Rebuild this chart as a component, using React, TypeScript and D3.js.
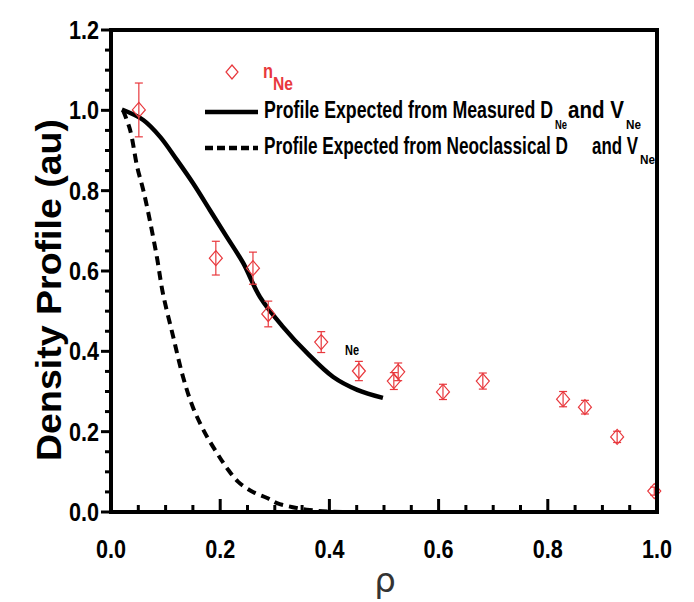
import React from 'react';
import * as d3 from 'd3';

// measured n_Ne points: rho, value, error
const rhoPts = [0.051, 0.192, 0.26, 0.288, 0.385, 0.454, 0.518, 0.526, 0.608, 0.681, 0.828, 0.868, 0.927, 0.995];
const nePts = [1.001, 0.632, 0.607, 0.493, 0.423, 0.351, 0.326, 0.349, 0.299, 0.326, 0.281, 0.261, 0.187, 0.052];
const neErr = [0.067, 0.042, 0.04, 0.032, 0.026, 0.024, 0.021, 0.022, 0.019, 0.02, 0.019, 0.017, 0.014, 0.01];

// profile from measured D and V
const measRho = [0.02, 0.059, 0.09, 0.121, 0.15, 0.181, 0.212, 0.242, 0.273, 0.315, 0.359, 0.407, 0.451, 0.498];
const measVal = [1.002, 0.976, 0.934, 0.876, 0.819, 0.752, 0.685, 0.62, 0.535, 0.461, 0.396, 0.336, 0.304, 0.284];

// profile from neoclassical D and V
const neoRho = [0.022, 0.035, 0.048, 0.059, 0.071, 0.084, 0.095, 0.114, 0.132, 0.15, 0.172, 0.194, 0.212, 0.233, 0.26, 0.286, 0.304, 0.333, 0.364, 0.401, 0.498];
const neoVal = [1.0, 0.951, 0.859, 0.802, 0.727, 0.635, 0.545, 0.436, 0.336, 0.261, 0.197, 0.147, 0.11, 0.075, 0.05, 0.035, 0.022, 0.012, 0.005, 0.001, 0.0];

const xTicks = [0, 0.2, 0.4, 0.6, 0.8, 1.0];
const yTicks = [0, 0.2, 0.4, 0.6, 0.8, 1.0, 1.2];

const RED = '#e8383d';
const NARROW = "'Liberation Sans Narrow', 'Liberation Sans', Arial, sans-serif";

export default function App() {
  const left = 111, right = 657, top = 30, bottom = 512;
  const x = d3.scaleLinear().domain([0, 1]).range([left, right]);
  const y = d3.scaleLinear().domain([0, 1.2]).range([bottom, top]);

  const line = d3.line<[number, number]>()
    .x(d => x(d[0]))
    .y(d => y(d[1]))
    .curve(d3.curveCatmullRom);

  const measPath = line(measRho.map((r, i) => [r, measVal[i]])) || '';
  const neoPath = line(neoRho.map((r, i) => [r, neoVal[i]])) || '';

  const minorX = d3.range(0, 1.0001, 0.05);
  const minorY = d3.range(0, 1.2001, 0.05);

  const diamond = (cx: number, cy: number, w = 6.5, h = 7.5) =>
    `M${cx},${cy - h}L${cx + w},${cy}L${cx},${cy + h}L${cx - w},${cy}Z`;

  return (
    <svg width={694} height={602} style={{ display: 'block', position: 'absolute', left: 0, top: 0 }}>
      <rect width={694} height={602} fill="#fff" />

      {/* curves */}
      <path d={measPath} fill="none" stroke="#000" strokeWidth={4.5} />
      <path d={neoPath} fill="none" stroke="#000" strokeWidth={4} strokeDasharray="9,6" />

      {/* data points */}
      {rhoPts.map((r, i) => {
        const cx = x(r), cy = y(nePts[i]);
        const y1 = y(nePts[i] + neErr[i]), y2 = y(nePts[i] - neErr[i]);
        return (
          <g key={i} stroke={RED} fill="none" strokeWidth={1.2}>
            <line x1={cx} x2={cx} y1={y1} y2={y2} />
            <line x1={cx - 4} x2={cx + 4} y1={y1} y2={y1} />
            <line x1={cx - 4} x2={cx + 4} y1={y2} y2={y2} />
            <path d={diamond(cx, cy)} />
          </g>
        );
      })}

      {/* frame */}
      <rect x={left} y={top} width={right - left} height={bottom - top} fill="none" stroke="#000" strokeWidth={4} />

      {/* x ticks (inward) */}
      {minorX.map((t, i) => {
        const major = i % 4 === 0;
        return <line key={'mx' + i} x1={x(t)} x2={x(t)} y1={bottom} y2={bottom - (major ? 13 : 7)} stroke="#000" strokeWidth={3} />;
      })}
      {/* y ticks (outward) */}
      {minorY.map((t, i) => {
        const major = i % 4 === 0;
        return <line key={'my' + i} x1={left} x2={left - (major ? 10 : 6)} y1={y(t)} y2={y(t)} stroke="#000" strokeWidth={3} />;
      })}

      {xTicks.map(t => (
        <text key={'xt' + t} x={x(t)} y={558} textAnchor="middle" fontFamily={NARROW} fontWeight="bold" fontSize={25}
          textLength={30} lengthAdjust="spacingAndGlyphs">{t.toFixed(1)}</text>
      ))}
      {yTicks.map(t => (
        <text key={'yt' + t} x={99} y={y(t) + 9} textAnchor="end" fontFamily={NARROW} fontWeight="bold" fontSize={25}
          textLength={30} lengthAdjust="spacingAndGlyphs">{t.toFixed(1)}</text>
      ))}

      {/* axis titles */}
      <text transform="translate(61,290) rotate(-90)" textAnchor="middle" fontFamily="'Liberation Sans', Arial, sans-serif"
        fontWeight="bold" fontSize={35} textLength={342} lengthAdjust="spacingAndGlyphs">Density Profile (au)</text>
      <text x={385} y={592} textAnchor="middle" fontFamily="'DejaVu Sans', sans-serif" fontSize={34} fill="#333">ρ</text>

      {/* legend */}
      <path d={diamond(232, 72, 6, 7)} fill="none" stroke={RED} strokeWidth={1.2} />
      <text x={263} y={78} fontFamily={NARROW} fontWeight="bold" fontSize={21} fill={RED} textLength={10} lengthAdjust="spacingAndGlyphs">n</text>
      <text x={273} y={90} fontFamily={NARROW} fontWeight="bold" fontSize={18} fill={RED} textLength={20} lengthAdjust="spacingAndGlyphs">Ne</text>

      <line x1={205} x2={258} y1={112} y2={112} stroke="#000" strokeWidth={4.5} />
      <text x={264} y={118} fontFamily={NARROW} fontWeight="bold" fontSize={24} textLength={289} lengthAdjust="spacingAndGlyphs">Profile Expected from Measured D</text>
      <text x={555} y={129} fontFamily={NARROW} fontWeight="bold" fontSize={13} textLength={12} lengthAdjust="spacingAndGlyphs">Ne</text>
      <text x={568} y={118} fontFamily={NARROW} fontWeight="bold" fontSize={24} textLength={56} lengthAdjust="spacingAndGlyphs">and V</text>
      <text x={626} y={129} fontFamily={NARROW} fontWeight="bold" fontSize={13} textLength={15} lengthAdjust="spacingAndGlyphs">Ne</text>

      <line x1={205} x2={258} y1={148} y2={148} stroke="#000" strokeWidth={4.5} strokeDasharray="8,4" />
      <text x={264} y={154} fontFamily={NARROW} fontWeight="bold" fontSize={24} textLength={304} lengthAdjust="spacingAndGlyphs">Profile Expected from Neoclassical D</text>
      <text x={592} y={154} fontFamily={NARROW} fontWeight="bold" fontSize={24} textLength={46} lengthAdjust="spacingAndGlyphs">and V</text>
      <text x={640} y={164} fontFamily={NARROW} fontWeight="bold" fontSize={13} textLength={15} lengthAdjust="spacingAndGlyphs">Ne</text>

      <text x={345} y={355} fontFamily={NARROW} fontWeight="bold" fontSize={15} textLength={14} lengthAdjust="spacingAndGlyphs">Ne</text>
    </svg>
  );
}
